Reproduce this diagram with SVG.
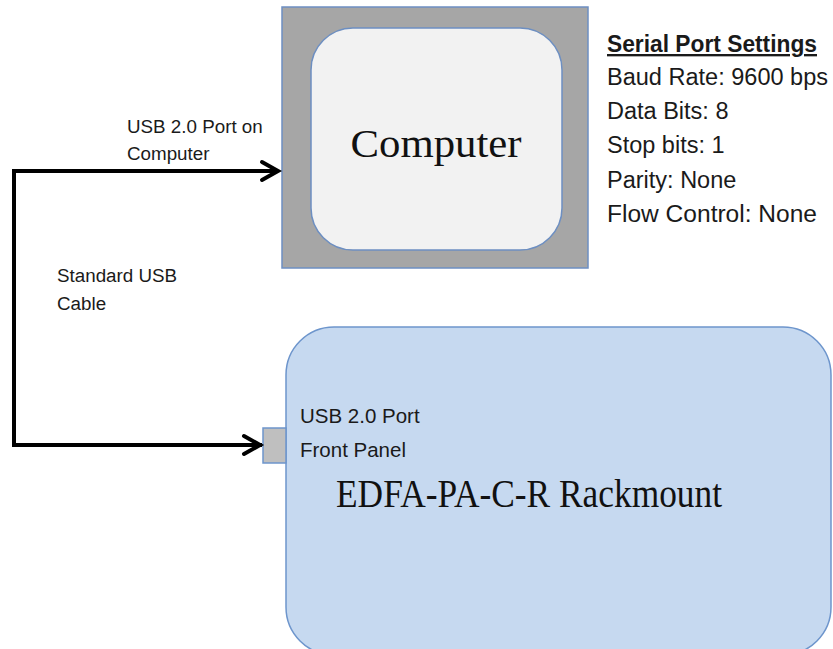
<svg xmlns="http://www.w3.org/2000/svg" width="833" height="649" viewBox="0 0 833 649">
<style>
.lbl{font-family:"Liberation Sans",Arial,sans-serif;font-size:18.8px;fill:#1a1a1a}
.port{font-family:"Liberation Sans",Arial,sans-serif;font-size:20.5px;fill:#1a1a1a}
.set{font-family:"Liberation Sans",Arial,sans-serif;font-size:23.5px;fill:#1a1a1a}
.big{font-family:"Liberation Serif","Times New Roman",serif;font-size:39px;fill:#111}
.edge{fill:none;stroke:#000;stroke-width:4}
</style>
<defs>
<marker id="arr" markerUnits="userSpaceOnUse" markerWidth="24" markerHeight="24" refX="20" refY="12" orient="auto" overflow="visible">
<polyline points="4,3 20,12 4,21" fill="none" stroke="#000" stroke-width="4" stroke-linecap="round" stroke-linejoin="miter"/>
</marker>
</defs>
<rect width="833" height="649" fill="#fff"/>
<g id="computer">
<rect x="282" y="7" width="306" height="261" fill="#a6a6a6" stroke="#6d8fc2" stroke-width="1.5"/>
<rect x="311" y="28" width="251" height="222" rx="42" fill="#f2f2f2" stroke="#6d8fc2" stroke-width="1.5"/>
<text class="big" x="436" y="157" text-anchor="middle" textLength="171" lengthAdjust="spacingAndGlyphs">Computer</text>
</g>
<g id="rackmount">
<rect x="286" y="327" width="545" height="328" rx="48" fill="#c6d9f0" stroke="#6d95cc" stroke-width="1.5"/>
<rect x="263" y="428" width="23" height="35" fill="#bfbfbf" stroke="#6d95cc" stroke-width="1.5"/>
<text class="port" x="300" y="423">USB 2.0 Port</text>
<text class="port" x="300" y="457">Front Panel</text>
<text class="big" x="336" y="507" textLength="386" lengthAdjust="spacingAndGlyphs">EDFA-PA-C-R Rackmount</text>
</g>
<g id="settings">
<text class="set" x="607" y="52" font-weight="bold" text-decoration="underline" textLength="210" lengthAdjust="spacingAndGlyphs">Serial Port Settings</text>
<text class="set" x="607" y="85" textLength="221" lengthAdjust="spacingAndGlyphs">Baud Rate: 9600 bps</text>
<text class="set" x="607" y="119">Data Bits: 8</text>
<text class="set" x="607" y="153">Stop bits: 1</text>
<text class="set" x="607" y="188">Parity: None</text>
<text class="set" x="607" y="222" textLength="210" lengthAdjust="spacingAndGlyphs">Flow Control: None</text>
</g>
<g id="connectors">
<path class="edge" d="M262,445 H14 V171 H278" marker-end="url(#arr)"/>
<path class="edge" d="M14,445 H260" marker-end="url(#arr)"/>
<text class="lbl" x="127" y="133">USB 2.0 Port on</text>
<text class="lbl" x="127" y="160">Computer</text>
<text class="lbl" x="57" y="282">Standard USB</text>
<text class="lbl" x="57" y="310">Cable</text>
</g>
</svg>
